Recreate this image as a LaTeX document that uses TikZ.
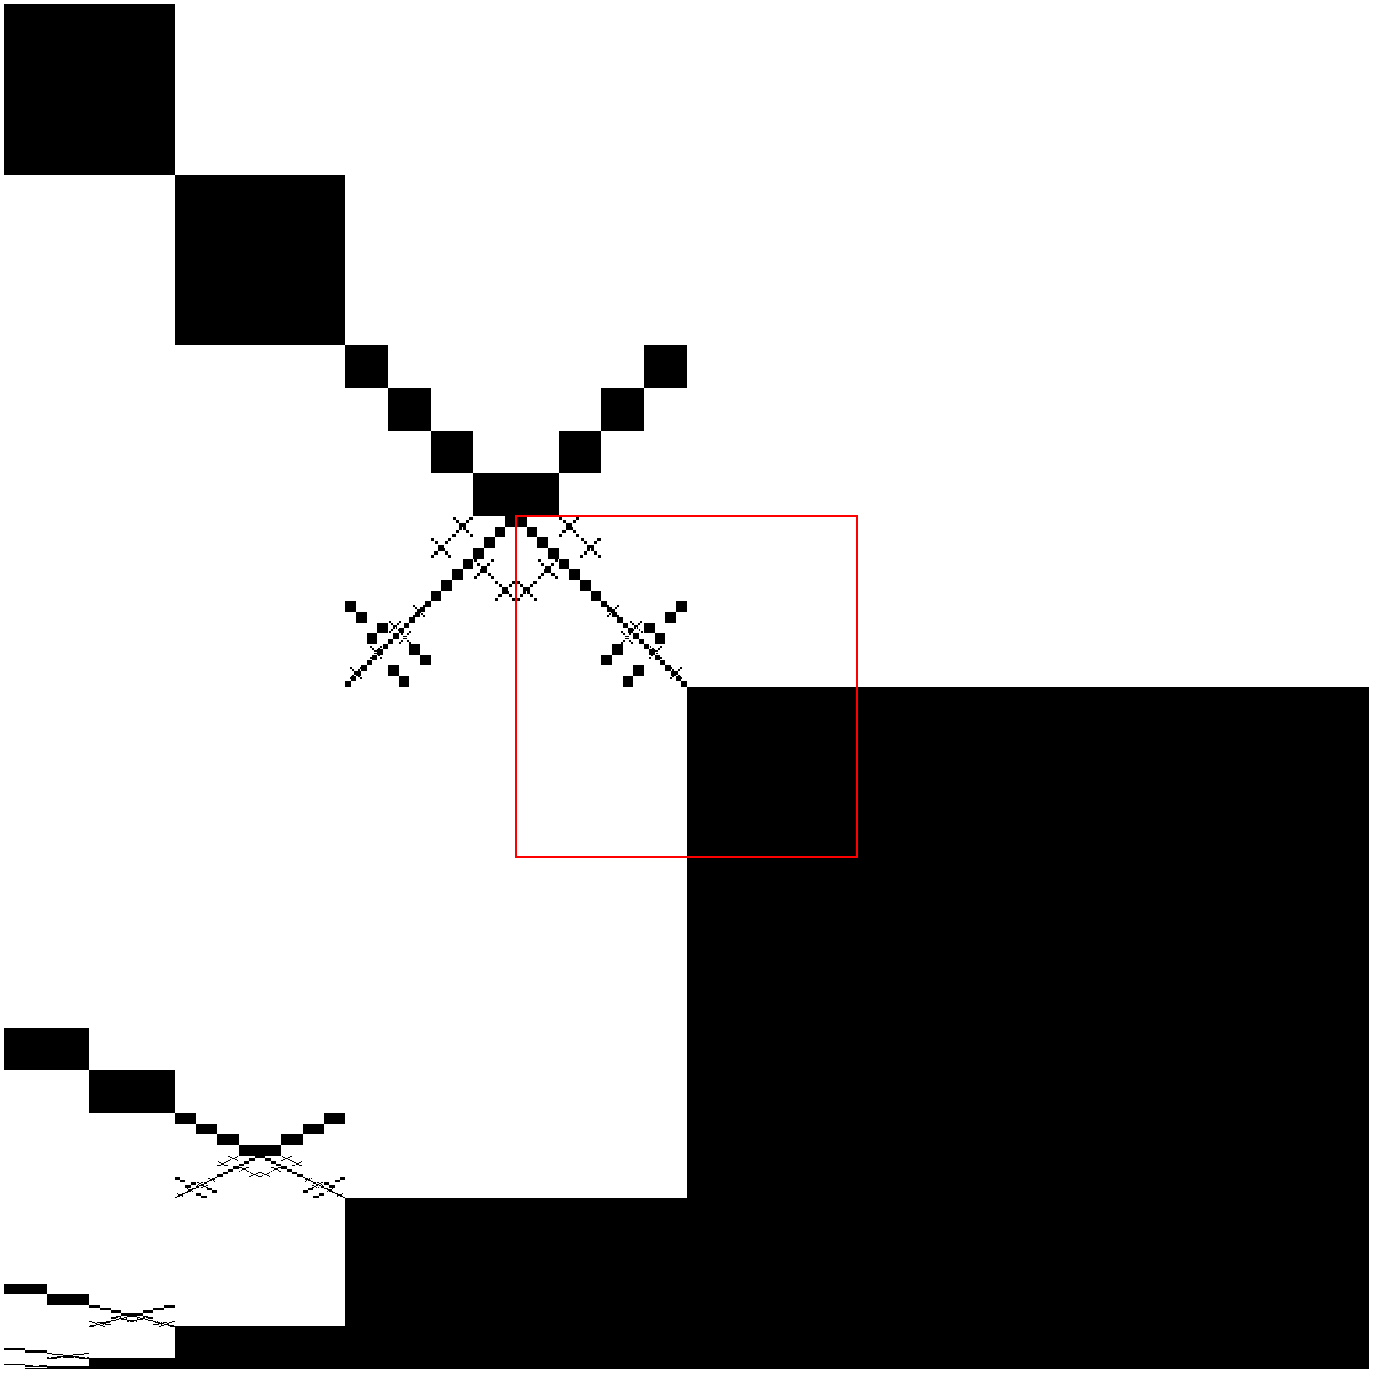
\documentclass[tikz,border=0pt]{standalone}
\newcommand\miniX{%
  \foreach \k in {0,...,5}{%
    \fill ({0.03+\k*0.16},{0.03+\k*0.16}) rectangle ++(0.15,0.15);
    \fill ({0.82-\k*0.16},{0.03+\k*0.16}) rectangle ++(0.15,0.15);
  }}
\newcommand\Aone{%
  \foreach \k in {0,...,7}{\fill ({(7-\k)/8},{\k/8}) rectangle ++(1/8,1/8);}
  \foreach \bx/\by in {1/0,0/1,2/2,3/3}{%
    \begin{scope}[shift={(\bx/4,\by/4)},scale=0.25]\miniX\end{scope}}}
\newcommand\Atwo{%
  \foreach \k in {0,...,15}{\fill ({(15-\k)/16},{\k/16}) rectangle ++(1/16,1/16);}
  \foreach \i/\j in {0/0,1/1,3/2,2/3,6/4,7/5,4/6,5/7}{\fill ({\i/8},{\j/8}) rectangle ++(1/8,1/8);}
  \foreach \cx/\cy in {6.3/0.3,4.1/1.8,5.0/2.8,2.3/4.2,0.4/6.1}{%
    \begin{scope}[shift={(\cx/8,\cy/8)},scale=0.15]\miniX\end{scope}}}
\newcommand\Lhalf{%
  \begin{scope}[shift={(0.25,0.5)},scale=0.25]\Aone\end{scope}
  \begin{scope}[shift={(0,0.75)},scale=0.25]\Atwo\end{scope}}
\newcommand\Rshape{%
  \foreach \c/\r in {0/0,1/1,2/2,3/3,4/3,5/2,6/1,7/0}{\fill ({\c/8},{\r/8}) rectangle ++(1/8,1/8);}
  \Lhalf
  \begin{scope}[shift={(1,0)},xscale=-1]\Lhalf\end{scope}}
\newcommand\Pshape{%
  \fill (0,0) rectangle (1,1);
  \fill (1,1) rectangle (2,2);
  \begin{scope}[shift={(2,2)},scale=2]\Rshape\end{scope}}
\begin{document}
\begin{tikzpicture}[x=1cm,y=-1cm]
\useasboundingbox (-0.02344,-0.02344) rectangle (8.02344,8.02344);
\fill[white] (-0.02344,-0.02344) rectangle (8.02344,8.02344);
% top-left quadrant
\Pshape
% bottom-right quadrant
\fill (4,4) rectangle (8,8);
% bottom-left quadrant: compressed copies
\begin{scope}[shift={(0,6)},xscale=0.5,yscale=0.25]\Pshape\end{scope}
\fill (2,7) rectangle (4,8);
\begin{scope}[shift={(0,7.5)},xscale=0.25,yscale=0.0625]\Pshape\end{scope}
\fill (1,7.75) rectangle (2,8);
\begin{scope}[shift={(0,7.875)},xscale=0.125,yscale=0.015625]\Pshape\end{scope}
\fill (0.5,7.9375) rectangle (1,8);
\begin{scope}[shift={(0,7.96875)},xscale=0.0625,yscale=0.00390625]\Pshape\end{scope}
\fill (0.25,7.984375) rectangle (0.5,8);
\fill (0.125,7.996) rectangle (0.25,8);
% red frame
\draw[red,line width=0.4pt] (3,3) rectangle (5,5);
\end{tikzpicture}
\end{document}
